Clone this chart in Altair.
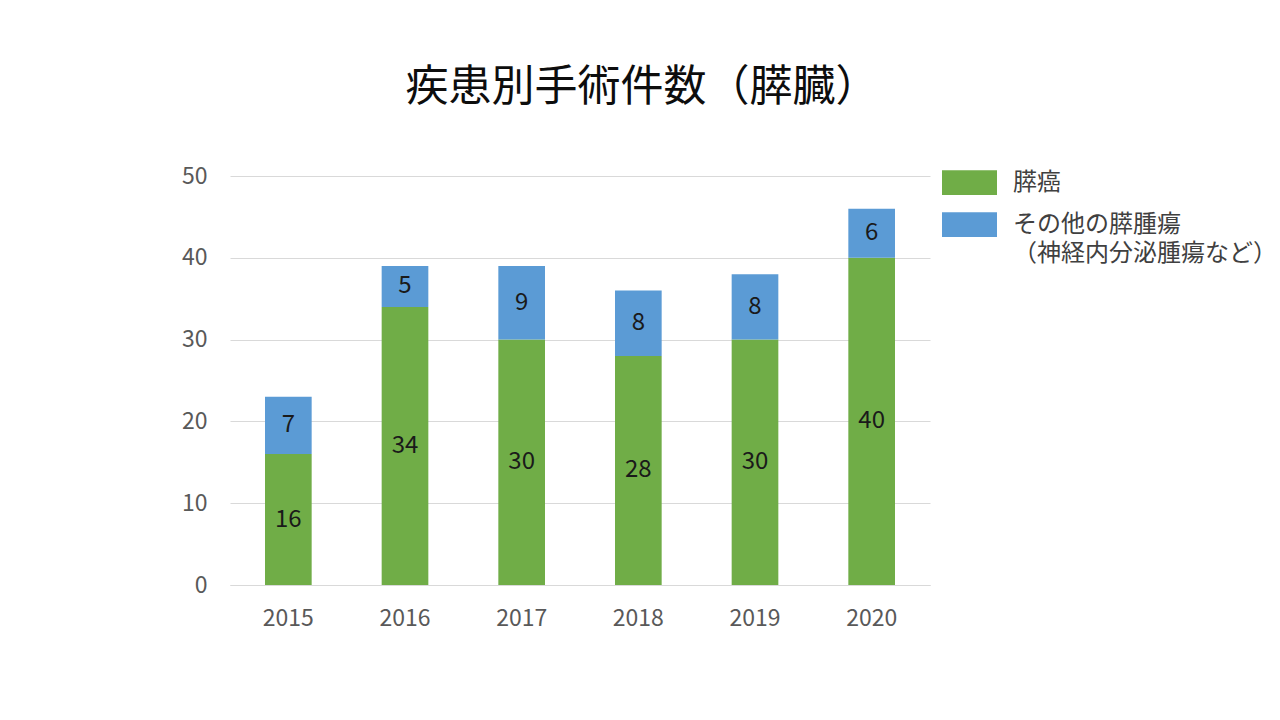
import altair as alt
import pandas as pd

years = ["2015", "2016", "2017", "2018", "2019", "2020"]
cancer = [16, 34, 30, 28, 30, 40]
other = [7, 5, 9, 8, 8, 6]
series_names = ["膵癌", "その他の膵腫瘍\n（神経内分泌腫瘍など）"]
colors = ["#70AD47", "#5B9BD5"]

rows = []
for y, c, o in zip(years, cancer, other):
    rows.append({"year": y, "series": series_names[0], "value": c, "ord": 0})
    rows.append({"year": y, "series": series_names[1], "value": o, "ord": 1})
df = pd.DataFrame(rows)

FONT = "Noto Sans CJK JP"

base = alt.Chart(df).transform_stack(
    stack="value", groupby=["year"], as_=["y0", "y1"], sort=[alt.SortField("ord")]
).transform_calculate(mid="(datum.y0 + datum.y1) / 2")

x = alt.X("year:N", title=None, sort=years,
          scale=alt.Scale(paddingInner=0.6, paddingOuter=0.3),
          axis=alt.Axis(labelAngle=0, labelFont=FONT, labelFontSize=23,
                        labelColor="#595959", labelPadding=22, ticks=False,
                        domainColor="#D9D9D9", domainWidth=1))

bars = base.mark_bar().encode(
    x=x,
    y=alt.Y("y0:Q", title=None,
            scale=alt.Scale(domain=[0, 50]),
            axis=alt.Axis(values=[0, 10, 20, 30, 40, 50], labelFont=FONT,
                          labelFontSize=23, labelColor="#595959", labelPadding=23,
                          ticks=False, domain=False, gridColor="#D9D9D9")),
    y2="y1:Q",
    color=alt.Color("series:N", sort=series_names,
                    scale=alt.Scale(domain=series_names, range=colors),
                    legend=alt.Legend(title=None, orient="none", legendX=712, legendY=-21,
                                      symbolType="M-1,-0.45L1,-0.45L1,0.45L-1,0.45Z",
                                      symbolSize=3025, symbolStrokeWidth=0,
                                      labelFont=FONT, labelFontSize=24, labelColor="#404040",
                                      labelExpr="split(datum.label, '\\n')",
                                      labelOffset=16, rowPadding=2, padding=0,
                                      labelLimit=400)),
    order=alt.Order("ord:Q"),
)

labels = base.mark_text(font=FONT, fontSize=24, color="#1a1a1a").encode(
    x=alt.X("year:N", sort=years),
    y=alt.Y("mid:Q"),
    text=alt.Text("value:Q"),
)

chart = alt.layer(bars, labels).properties(
    width=700, height=409,
    padding={"left": 222, "top": 168, "right": 342, "bottom": 119},
    autosize=alt.AutoSizeParams(type="none"),
    title=alt.TitleParams("疾患別手術件数（膵臓）", font=FONT, fontSize=43,
                          fontWeight="normal", color="#0d0d0d", anchor="middle",
                          dx=62, offset=45),
).configure(background="white", style={"guide-label": {"lineHeight": 29}}).configure_view(stroke=None)

chart.save("out.html", embed_options={"renderer": "svg", "actions": False})
